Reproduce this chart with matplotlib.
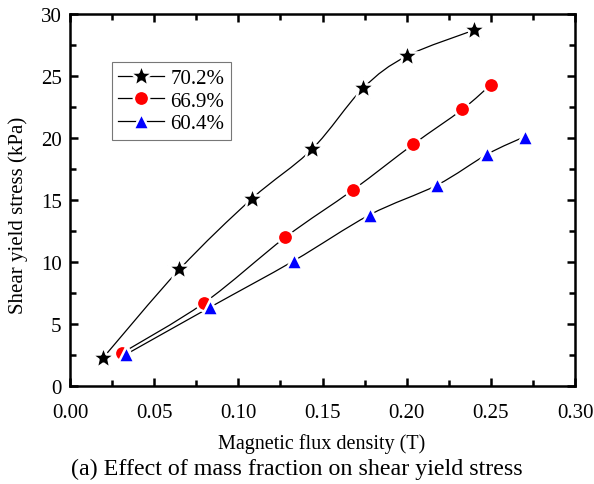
import numpy as np
import matplotlib
matplotlib.use('Agg')
import matplotlib.pyplot as plt
from matplotlib.path import Path
from matplotlib.patches import PathPatch
from matplotlib.lines import Line2D
from matplotlib.ticker import MultipleLocator

plt.rcParams['font.family'] = ['Liberation Serif', 'DejaVu Serif']

# data
b_702 = [0.0196, 0.065, 0.108, 0.1438, 0.174, 0.200, 0.240]
tau_702 = [2.26, 9.4, 15.1, 19.1, 24.0, 26.6, 28.7]
b_669 = [0.0309, 0.0796, 0.128, 0.168, 0.204, 0.233, 0.250]
tau_669 = [2.66, 6.7, 12.0, 15.8, 19.5, 22.3, 24.3]
b_604 = [0.0333, 0.0832, 0.133, 0.178, 0.218, 0.248, 0.270]
tau_604 = [2.55, 6.35, 10.1, 13.8, 16.2, 18.7, 20.1]
labels = ['70.2%', '66.9%', '60.4%']


def spline_path(x, y):
    """Catmull-Rom curve through the points as a bezier Path."""
    p = np.column_stack([x, y])
    n = len(p)
    verts = [p[0]]
    codes = [Path.MOVETO]
    for i in range(n - 1):
        p0 = p[i - 1] if i > 0 else p[i]
        p3 = p[i + 2] if i + 2 < n else p[i + 1]
        c1 = p[i] + (p[i + 1] - p0) / 6
        c2 = p[i + 1] - (p3 - p[i]) / 6
        verts += [c1, c2, p[i + 1]]
        codes += [Path.CURVE4] * 3
    return Path(verts, codes)


fig = plt.figure(figsize=(5.94, 4.85), dpi=100)
ax = fig.add_axes([70 / 594, 1 - 387 / 485, 505 / 594, 372 / 485])

series = [
    (b_702, tau_702, '*', 'black', 18),
    (b_669, tau_669, 'o', 'red', 11),
    (b_604, tau_604, '^', 'blue', 12),
]
handles = []
for (x, y, m, c, ms), lab in zip(series, labels):
    ax.add_patch(PathPatch(spline_path(x, y), fill=False, edgecolor='black', lw=0.9))
    ax.plot(x, y, ls='none', marker=m, ms=ms, mfc=c, mec='white', mew=1.8, zorder=3)
    handles.append(Line2D([], [], color='black', lw=0.9, marker=m, ms=ms,
                          mfc=c, mec='white', mew=1.8))

ax.set_xlim(0, 0.30)
ax.set_ylim(0, 30)
ax.xaxis.set_major_locator(MultipleLocator(0.05))
ax.xaxis.set_minor_locator(MultipleLocator(0.025))
ax.yaxis.set_major_locator(MultipleLocator(5))
ax.yaxis.set_minor_locator(MultipleLocator(2.5))
ax.set_xticks(np.arange(0, 0.301, 0.05))
ax.set_xticklabels(['%.2f' % v for v in np.arange(0, 0.301, 0.05)])
ax.tick_params(which='both', direction='in', top=True, right=True,
               width=1.8, labelsize=15)
ax.tick_params(axis='x', pad=12)
ax.tick_params(axis='y', pad=6)
ax.tick_params(which='major', length=6)
ax.tick_params(which='minor', length=4)
for s in ax.spines.values():
    s.set_linewidth(1.8)

ax.set_ylabel('Shear yield stress (kPa)', fontsize=15)
ax.yaxis.set_label_coords(-42 / 505, (387 - 215) / 372)
ax.set_xlabel('Magnetic flux density (T)', fontsize=14.5)
ax.xaxis.set_label_coords((322 - 70) / 505, -(434 - 387) / 372)
fig.text((70 + 523) / 2 / 594, 1 - 469 / 485,
         '(a) Effect of mass fraction on shear yield stress',
         ha='center', va='center', fontsize=17.3)

leg = ax.legend(handles, labels, loc='upper left',
                bbox_to_anchor=((112 - 70) / 505, (387 - 63) / 372),
                fontsize=15, frameon=True, fancybox=False, handlelength=2.2,
                handletextpad=0.3, borderpad=0.3, labelspacing=0.15,
                borderaxespad=0)
leg.get_frame().set_edgecolor('#555555')
leg.get_frame().set_linewidth(0.8)

fig.savefig('out.png', dpi=100)
